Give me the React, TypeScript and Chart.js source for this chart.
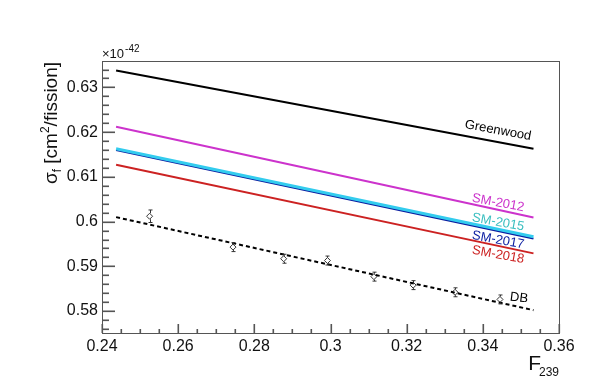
import React, { useEffect, useRef } from "react";
import { Chart, registerables } from "chart.js";
Chart.register(...registerables);

// ---- data ----
const lineX = [0.2437, 0.3533];
const greenwood = [0.6338, 0.6163];
const sm2012 = [0.6212, 0.6009];
const sm2015 = [0.6163, 0.5966];
const sm2017 = [0.616, 0.5962];
const sm2018 = [0.6127, 0.5929];
const dbFit = [0.601, 0.5802];

const pointX = [0.2525, 0.2744, 0.2877, 0.2992, 0.3114, 0.3217, 0.3327, 0.3445];
const pointY = [0.6012, 0.5943, 0.5917, 0.5913, 0.5877, 0.5858, 0.5842, 0.5826];
const pointErr = [0.0014, 0.001, 0.001, 0.001, 0.001, 0.001, 0.001, 0.001];

const xTicks = [0.24, 0.26, 0.28, 0.3, 0.32, 0.34, 0.36];
const xTickLabels = ["0.24", "0.26", "0.28", "0.3", "0.32", "0.34", "0.36"];
const yTicks = [0.58, 0.59, 0.6, 0.61, 0.62, 0.63];
const yTickLabels = ["0.58", "0.59", "0.6", "0.61", "0.62", "0.63"];
const yMinorTicks = [0.576, 0.578, 0.58, 0.582, 0.584, 0.586, 0.588, 0.59, 0.592, 0.594, 0.596, 0.598, 0.6,
  0.602, 0.604, 0.606, 0.608, 0.61, 0.612, 0.614, 0.616, 0.618, 0.62, 0.622, 0.624, 0.626, 0.628, 0.63, 0.632, 0.634];
const xMinorTicks = [0.24, 0.245, 0.25, 0.255, 0.26, 0.265, 0.27, 0.275, 0.28, 0.285, 0.29, 0.295, 0.3,
  0.305, 0.31, 0.315, 0.32, 0.325, 0.33, 0.335, 0.34, 0.345, 0.35, 0.355, 0.36];

const seriesNames = ["Greenwood", "SM-2012", "SM-2015", "SM-2017", "SM-2018", "DB"];

const X_MIN = 0.24, X_MAX = 0.36, Y_MIN = 0.5751, Y_MAX = 0.6359;
const FONT = "'Liberation Sans', Arial, Helvetica, sans-serif";

const colors = {
  greenwood: "#000000",
  sm2012: "#cc33cc",
  sm2015: "#33ccee",
  sm2015Label: "#3bbfc0",
  sm2017: "#0a1ca0",
  sm2018: "#cc2222",
  db: "#000000",
};

function mkLine(vals: number[]) {
  return lineX.map((x, i) => ({ x, y: vals[i] }));
}

const overlayPlugin = {
  id: "overlay",
  afterDraw(chart: any) {
    const ctx = chart.ctx as CanvasRenderingContext2D;
    const xs = chart.scales.x;
    const ys = chart.scales.y;
    const ca = chart.chartArea;
    ctx.save();
    ctx.setLineDash([]);
    // error bars
    ctx.strokeStyle = "#333";
    ctx.lineWidth = 1;
    pointX.forEach((x, i) => {
      const px = Math.round(xs.getPixelForValue(x)) + 0.5;
      const yTop = ys.getPixelForValue(pointY[i] + pointErr[i]);
      const yBot = ys.getPixelForValue(pointY[i] - pointErr[i]);
      const yc = ys.getPixelForValue(pointY[i]);
      ctx.beginPath();
      ctx.moveTo(px, yTop); ctx.lineTo(px, yc - 3);
      ctx.moveTo(px, yc + 3); ctx.lineTo(px, yBot);
      ctx.moveTo(px - 2, yTop); ctx.lineTo(px + 2, yTop);
      ctx.moveTo(px - 2, yBot); ctx.lineTo(px + 2, yBot);
      ctx.stroke();
    });

    // frame
    const L = Math.round(ca.left), R = Math.round(ca.right);
    const T = Math.round(ca.top), B = Math.round(ca.bottom);
    ctx.fillStyle = "#555";
    ctx.fillRect(L, T, R - L + 1, 1);
    ctx.fillRect(L, B, R - L + 1, 1);
    ctx.fillRect(L, T, 1, B - T + 1);
    ctx.fillRect(R, T, 1, B - T + 1);

    // y ticks (inward)
    ctx.fillStyle = "#555";
    yMinorTicks.forEach((v) => {
      const py = Math.round(ys.getPixelForValue(v));
      const major = yTicks.some((t) => Math.abs(t - v) < 1e-6);
      ctx.fillRect(L, py - 0.5, major ? 13 : 7, 1.6);
    });
    // x ticks (inward)
    xMinorTicks.forEach((v) => {
      const px = Math.round(xs.getPixelForValue(v));
      const major = xTicks.some((t) => Math.abs(t - v) < 1e-6);
      const len = major ? 9 : 4;
      ctx.fillRect(px - 0.5, B - len, 1.6, len);
    });

    // series labels along lines (descending to the right like the lines)
    const ang = (10.5 * Math.PI) / 180;
    const lineAt = (vals: number[], x: number) =>
      vals[0] + ((vals[1] - vals[0]) * (x - lineX[0])) / (lineX[1] - lineX[0]);
    const labels = [
      { text: seriesNames[0], vals: greenwood, x: 0.344, dy: -11.5, color: colors.greenwood, rot: ang },
      { text: seriesNames[1], vals: sm2012, x: 0.344, dy: -7, color: colors.sm2012, rot: ang },
      { text: seriesNames[2], vals: sm2015, x: 0.344, dy: -7, color: colors.sm2015Label, rot: ang },
      { text: seriesNames[3], vals: sm2017, x: 0.344, dy: 9, color: colors.sm2017, rot: ang },
      { text: seriesNames[4], vals: sm2018, x: 0.344, dy: 9, color: colors.sm2018, rot: ang },
      { text: seriesNames[5], vals: dbFit, x: 0.3495, dy: -9, color: colors.db, rot: (7 * Math.PI) / 180 },
    ];
    labels.forEach((l) => {
      const px = xs.getPixelForValue(l.x);
      const py = ys.getPixelForValue(lineAt(l.vals, l.x)) + l.dy;
      ctx.save();
      ctx.translate(px, py);
      ctx.rotate(l.rot);
      ctx.fillStyle = l.color;
      ctx.font = `13px ${FONT}`;
      ctx.textAlign = "center";
      ctx.textBaseline = "middle";
      ctx.fillText(l.text, 0, 0);
      ctx.restore();
    });

    // x10^-42
    ctx.fillStyle = "#111";
    ctx.textAlign = "left";
    ctx.textBaseline = "alphabetic";
    ctx.font = `13px ${FONT}`;
    ctx.fillText("×10", ca.left, 58);
    const w10 = ctx.measureText("×10").width;
    ctx.font = `10px ${FONT}`;
    ctx.fillText("-42", ca.left + w10 + 1, 52);

    // x-axis title F_239
    ctx.font = `21px ${FONT}`;
    const wF = ctx.measureText("F").width;
    ctx.font = `12px ${FONT}`;
    const w239 = ctx.measureText("239").width;
    const xEnd = ca.right;
    ctx.font = `21px ${FONT}`;
    ctx.fillText("F", xEnd - w239 - wF + 2, 370);
    ctx.font = `12px ${FONT}`;
    ctx.fillText("239", xEnd - w239, 376);

    // y-axis title sigma_f [cm^2/fission]
    ctx.save();
    ctx.translate(57, 123);
    ctx.rotate(-Math.PI / 2);
    const parts = [
      { t: "σ", size: 19, dy: 0 },
      { t: "f", size: 12, dy: 4 },
      { t: " [cm", size: 19, dy: 0 },
      { t: "2", size: 12, dy: -8 },
      { t: "/fission]", size: 19, dy: 0 },
    ];
    let total = 0;
    parts.forEach((p) => {
      ctx.font = `${p.size}px ${FONT}`;
      total += ctx.measureText(p.t).width;
    });
    let cx = -total / 2;
    parts.forEach((p) => {
      ctx.font = `${p.size}px ${FONT}`;
      ctx.fillText(p.t, cx, p.dy);
      cx += ctx.measureText(p.t).width;
    });
    ctx.restore();

    ctx.restore();
  },
};

export default function App() {
  const ref = useRef<HTMLCanvasElement | null>(null);
  useEffect(() => {
    document.body.style.margin = "0";
    const canvas = ref.current!;
    const chart = new Chart(canvas, {
      type: "scatter",
      data: {
        datasets: [
          {
            label: seriesNames[2], data: mkLine(sm2015), showLine: true, borderColor: colors.sm2015,
            borderWidth: 3, pointRadius: 0,
          },
          {
            label: seriesNames[0], data: mkLine(greenwood), showLine: true, borderColor: colors.greenwood,
            borderWidth: 2, pointRadius: 0,
          },
          {
            label: seriesNames[1], data: mkLine(sm2012), showLine: true, borderColor: colors.sm2012,
            borderWidth: 2, pointRadius: 0,
          },
          {
            label: seriesNames[3], data: mkLine(sm2017), showLine: true, borderColor: colors.sm2017,
            borderWidth: 2, pointRadius: 0,
          },
          {
            label: seriesNames[4], data: mkLine(sm2018), showLine: true, borderColor: colors.sm2018,
            borderWidth: 2, pointRadius: 0,
          },
          {
            label: seriesNames[5], data: mkLine(dbFit), showLine: true, borderColor: colors.db,
            borderWidth: 2, borderDash: [4, 3], pointRadius: 0,
          },
          {
            label: "data", data: pointX.map((x, i) => ({ x, y: pointY[i] })), showLine: false,
            pointStyle: "rectRot", pointRadius: 3, backgroundColor: "#fff", borderColor: "#333", borderWidth: 1,
          },
        ],
      },
      options: {
        responsive: false,
        animation: false,
        layout: { padding: { top: 61, right: 40, left: 0, bottom: 0 } },
        plugins: { legend: { display: false }, tooltip: { enabled: false } },
        scales: {
          x: {
            type: "linear", min: X_MIN, max: X_MAX,
            grid: { display: false, drawTicks: false }, border: { display: false },
            afterBuildTicks: (s: any) => { s.ticks = xTicks.map((v) => ({ value: v })); },
            afterFit: (s: any) => { s.height = 52; },
            ticks: {
              padding: 4, color: "#111", font: { family: FONT, size: 16 }, maxRotation: 0,
              callback: (v: any) => { const i = xTicks.findIndex((t) => Math.abs(t - v) < 1e-9); return i >= 0 ? xTickLabels[i] : ""; },
            },
          },
          y: {
            type: "linear", min: Y_MIN, max: Y_MAX,
            grid: { display: false, drawTicks: false }, border: { display: false },
            afterBuildTicks: (s: any) => { s.ticks = yTicks.map((v) => ({ value: v })); },
            afterFit: (s: any) => { s.width = 102; },
            ticks: {
              padding: 4, color: "#111", font: { family: FONT, size: 16 },
              callback: (v: any) => { const i = yTicks.findIndex((t) => Math.abs(t - v) < 1e-9); return i >= 0 ? yTickLabels[i] : ""; },
            },
          },
        },
      },
      plugins: [overlayPlugin],
    } as any);
    return () => chart.destroy();
  }, []);
  return (
    <div style={{ width: 599, height: 385, background: "#fff" }}>
      <canvas ref={ref} width={599} height={385} style={{ display: "block" }} />
    </div>
  );
}
